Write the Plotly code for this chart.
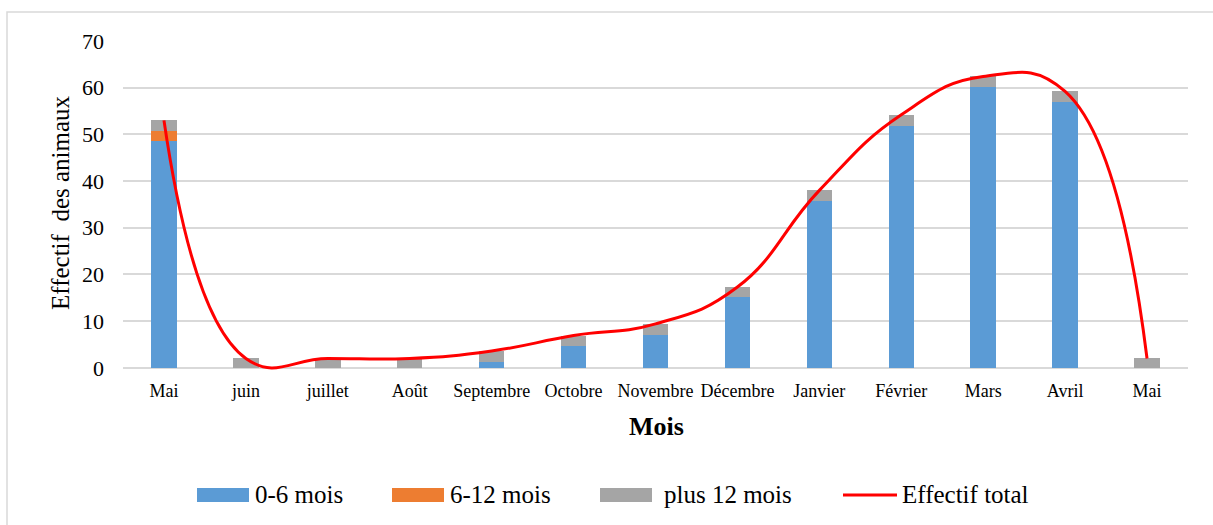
import plotly.graph_objects as go

# Monthly headcount by age group
months = ["Mai", "juin", "juillet", "Août", "Septembre", "Octobre", "Novembre",
          "Décembre", "Janvier", "Février", "Mars", "Avril", "Mai"]
age_0_6 = [48.5, 0, 0, 0, 1.3, 4.6, 7.0, 15.1, 35.8, 51.8, 60.1, 56.9, 0]
age_6_12 = [2.2, 0, 0, 0, 0, 0, 0, 0, 0, 0, 0, 0, 0]
age_12_plus = [2.3, 2.0, 2.0, 2.0, 2.3, 2.3, 2.4, 2.2, 2.2, 2.4, 2.3, 2.3, 2.0]
total = [53.0, 2.0, 2.0, 2.0, 3.6, 6.9, 9.4, 17.3, 38.0, 54.2, 62.4, 59.2, 2.0]
y_ticks = [0, 10, 20, 30, 40, 50, 60, 70]

BLUE, ORANGE, GRAY, RED = "#5B9BD5", "#ED7D31", "#A5A5A5", "#FF0000"
FONT = "Liberation Serif, Times New Roman, serif"

W, H = 1213, 525
L, R, T, B = 123, 25, 41, 153
PW, PH = W - L - R, H - T - B


def px(x):
    return (x - L) / PW


def py(y):
    return (H - B - y) / PH


xs = list(range(len(months)))
fig = go.Figure()
for name, vals, col in [("0-6 mois", age_0_6, BLUE),
                        ("6-12 mois", age_6_12, ORANGE),
                        ("plus 12 mois", age_12_plus, GRAY)]:
    fig.add_trace(go.Bar(x=xs, y=vals, name=name, marker_color=col,
                         marker_line_width=0, width=0.31))
fig.add_trace(go.Scatter(x=xs, y=total, name="Effectif total", mode="lines",
                         line=dict(color=RED, width=3, shape="spline", smoothing=1.3)))

fig.update_layout(
    width=W, height=H, barmode="stack", showlegend=False,
    margin=dict(l=L, r=R, t=T, b=B),
    paper_bgcolor="white", plot_bgcolor="white",
    font=dict(family=FONT, color="#000000"),
    xaxis=dict(range=[-0.5, len(months) - 0.5], tickmode="array", tickvals=xs,
               ticktext=months, showgrid=False, zeroline=False, showline=False,
               tickfont=dict(size=18), ticklabelstandoff=6),
    yaxis=dict(range=[-0.9, 70], tickmode="array", tickvals=y_ticks,
               showgrid=True, gridcolor="#D9D9D9", gridwidth=1.5,
               zeroline=True, zerolinecolor="#D9D9D9", zerolinewidth=1.5,
               showline=False, tickfont=dict(size=22), ticklabelstandoff=18),
)

# Axis titles
fig.add_annotation(xref="paper", yref="paper", x=px(60), y=py(203),
                   text="Effectif  des animaux", textangle=-90, showarrow=False,
                   font=dict(size=25), xanchor="center", yanchor="middle")
fig.add_annotation(xref="paper", yref="paper", x=px(656), y=py(426),
                   text="<b>Mois</b>", showarrow=False, font=dict(size=26),
                   xanchor="center", yanchor="middle")

# Legend drawn along the bottom
legend_y = 495
for name, col, x0, tx in [("0-6 mois", BLUE, 197, 253),
                          ("6-12 mois", ORANGE, 392, 448),
                          ("plus 12 mois", GRAY, 600, 662)]:
    fig.add_shape(type="rect", xref="paper", yref="paper",
                  x0=px(x0), x1=px(x0 + 52), y0=py(legend_y + 7), y1=py(legend_y - 7),
                  fillcolor=col, line_width=0)
    fig.add_annotation(xref="paper", yref="paper", x=px(tx), y=py(legend_y),
                       text=name, showarrow=False, font=dict(size=25),
                       xanchor="left", yanchor="middle")
fig.add_shape(type="line", xref="paper", yref="paper",
              x0=px(843), x1=px(897), y0=py(legend_y), y1=py(legend_y),
              line=dict(color=RED, width=3))
fig.add_annotation(xref="paper", yref="paper", x=px(900), y=py(legend_y),
                   text="Effectif total", showarrow=False, font=dict(size=25),
                   xanchor="left", yanchor="middle")

# Chart frame
fig.add_shape(type="rect", xref="paper", yref="paper",
              x0=px(7), x1=px(W + 10), y0=py(H + 10), y1=py(12),
              line=dict(color="#D9D9D9", width=1.5), fillcolor="rgba(0,0,0,0)",
              layer="below")

fig.write_html("out.html")
